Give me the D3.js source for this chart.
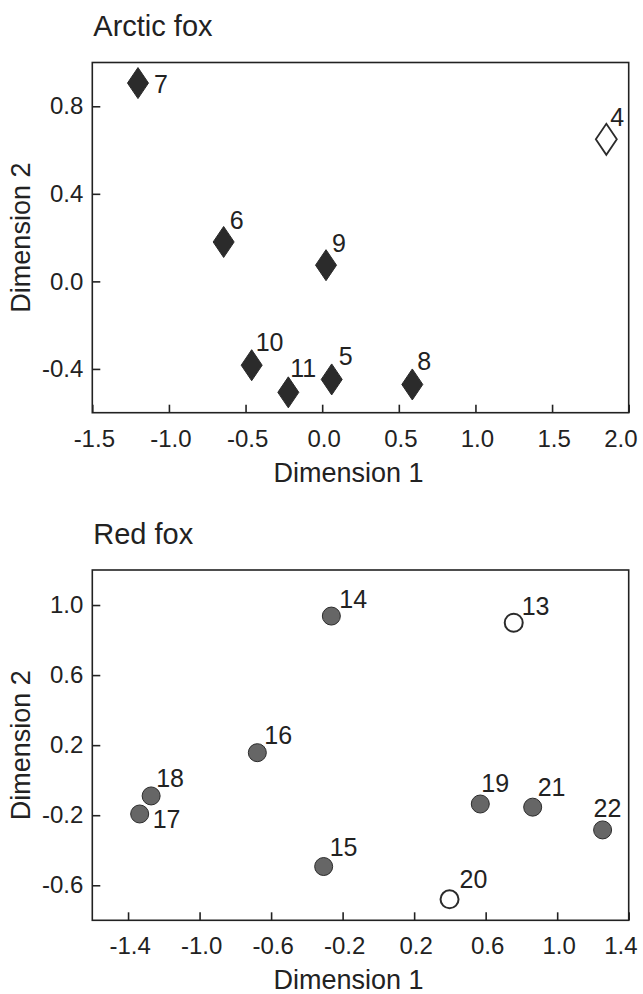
<!DOCTYPE html>
<html>
<head>
<meta charset="utf-8">
<script src="https://cdn.jsdelivr.net/npm/d3@7"></script>
<style>
  html, body { margin: 0; padding: 0; background: #fff; }
  svg { display: block; }
  text { font-family: "Liberation Sans", Arial, Helvetica, sans-serif; fill: #222; }
</style>
</head>
<body>
<svg id="chart" width="643" height="994"></svg>
<script>
// ---------- DATA ----------
const arcticIds   = [4, 5, 6, 7, 8, 9, 10, 11];
const arcticDim1  = [1.854, 0.062, -0.643, -1.202, 0.588, 0.025, -0.460, -0.221];
const arcticDim2  = [0.649, -0.448, 0.180, 0.906, -0.471, 0.074, -0.383, -0.507];
const arcticGroup = ["open", "filled", "filled", "filled", "filled", "filled", "filled", "filled"];

const redIds   = [13, 14, 15, 16, 17, 18, 19, 20, 21, 22];
const redDim1  = [0.757, -0.263, -0.306, -0.677, -1.335, -1.271, 0.570, 0.398, 0.863, 1.254];
const redDim2  = [0.899, 0.937, -0.493, 0.157, -0.193, -0.090, -0.136, -0.680, -0.154, -0.284];
const redGroup = ["open", "filled", "filled", "filled", "filled", "filled", "filled", "open", "filled", "filled"];

const arcticXTicks = [-1.5, -1.0, -0.5, 0.0, 0.5, 1.0, 1.5, 2.0];
const arcticYTicks = [-0.4, 0.0, 0.4, 0.8];
const redXTicks = [-1.4, -1.0, -0.6, -0.2, 0.2, 0.6, 1.0, 1.4];
const redYTicks = [-0.6, -0.2, 0.2, 0.6, 1.0];

const panelTitles = ["Arctic fox", "Red fox"];
const xTitle = "Dimension 1";
const yTitle = "Dimension 2";

// ---------- LAYOUT (label placement offsets, px) ----------
const arcticLabelOffset = {4:[4,-13], 5:[7,-14], 6:[6,-13], 7:[16,10], 8:[5,-14], 9:[6,-13], 10:[4,-14], 11:[2,-15]};
const redLabelOffset = {13:[8,-8], 14:[8,-8], 15:[6,-11], 16:[7,-9], 17:[13,14], 18:[5,-9], 19:[1,-12], 20:[10,-11], 21:[5,-11], 22:[-9,-13]};

const svg = d3.select("#chart");
const fmt = d3.format(".1f");
const fmtTick = v => fmt(v).replace("−", "-");

function panel(cfg) {
  const g = svg.append("g");
  const x = d3.scaleLinear().domain(cfg.xDomain).range([cfg.left, cfg.right]);
  const y = d3.scaleLinear().domain(cfg.yDomain).range([cfg.bottom, cfg.top]);

  // frame
  g.append("rect")
    .attr("x", cfg.left).attr("y", cfg.top)
    .attr("width", cfg.right - cfg.left).attr("height", cfg.bottom - cfg.top)
    .attr("fill", "none").attr("stroke", "#222").attr("stroke-width", 1.6);

  // x axis
  const xa = g.append("g").attr("transform", `translate(0,${cfg.bottom})`)
    .call(d3.axisBottom(x).tickValues(cfg.xTicks).tickFormat(fmtTick)
      .tickSizeInner(-8).tickSizeOuter(0).tickPadding(17));
  xa.select(".domain").remove();
  xa.selectAll(".tick line").attr("stroke", "#222").attr("stroke-width", 1.6);
  xa.selectAll(".tick text").attr("font-size", 24).attr("fill", "#222")
    .style("font-family", '"Liberation Sans", Arial, sans-serif')
    .attr("x", 1.5);
  // last label kept inside the picture, right edge near the canvas edge
  const lastX = xa.selectAll(".tick text").filter((d, i, n) => i === n.length - 1);
  lastX.attr("text-anchor", "end").attr("x", 637 - cfg.right);

  // y axis
  const ya = g.append("g").attr("transform", `translate(${cfg.left},0)`)
    .call(d3.axisLeft(y).tickValues(cfg.yTicks).tickFormat(fmtTick)
      .tickSizeInner(-8).tickSizeOuter(0).tickPadding(9));
  ya.select(".domain").remove();
  ya.selectAll(".tick line").attr("stroke", "#222").attr("stroke-width", 1.6);
  ya.selectAll(".tick text").attr("font-size", 24).attr("fill", "#222")
    .style("font-family", '"Liberation Sans", Arial, sans-serif');

  // titles
  g.append("text").attr("x", cfg.left + 1).attr("y", cfg.top - 26.5)
    .attr("font-size", 29).text(cfg.title);
  g.append("text").attr("x", (cfg.left + cfg.right) / 2 - 12).attr("y", cfg.bottom + 69)
    .attr("text-anchor", "middle").attr("font-size", 27).text(xTitle);
  g.append("text")
    .attr("transform", `translate(30,${(cfg.top + cfg.bottom) / 2}) rotate(-90)`)
    .attr("text-anchor", "middle").attr("font-size", 27).text(yTitle);

  const pts = cfg.ids.map((id, i) => ({id, vx: cfg.d1[i], vy: cfg.d2[i], grp: cfg.grp[i]}));

  const marks = g.append("g").selectAll("g.pt").data(pts).join("g")
    .attr("class", "pt")
    .attr("transform", d => `translate(${x(d.vx)},${y(d.vy)})`);

  if (cfg.shape === "diamond") {
    marks.append("path")
      .attr("d", "M0,-15.5 L10.5,0 L0,15.5 L-10.5,0 Z")
      .attr("fill", d => d.grp === "open" ? "#fff" : "#2b2b2b")
      .attr("stroke", "#2b2b2b")
      .attr("stroke-width", d => d.grp === "open" ? 1.8 : 1);
  } else {
    marks.append("circle").attr("r", 9)
      .attr("fill", d => d.grp === "open" ? "#fff" : "#666")
      .attr("stroke", "#2b2b2b")
      .attr("stroke-width", d => d.grp === "open" ? 2 : 1);
  }

  g.append("g").selectAll("text").data(pts).join("text")
    .attr("x", d => x(d.vx) + cfg.offsets[d.id][0])
    .attr("y", d => y(d.vy) + cfg.offsets[d.id][1])
    .attr("font-size", 25)
    .text(d => d.id);
}

panel({
  title: panelTitles[0],
  left: 92.3, right: 628.7, top: 62.5, bottom: 412.7,
  xDomain: [-1.5, 2.0], yDomain: [-0.6, 1.0],
  xTicks: arcticXTicks, yTicks: arcticYTicks,
  ids: arcticIds, d1: arcticDim1, d2: arcticDim2, grp: arcticGroup,
  shape: "diamond", offsets: arcticLabelOffset
});

panel({
  title: panelTitles[1],
  left: 92.3, right: 628.7, top: 570, bottom: 920.3,
  xDomain: [-1.6, 1.4], yDomain: [-0.8, 1.2],
  xTicks: redXTicks, yTicks: redYTicks,
  ids: redIds, d1: redDim1, d2: redDim2, grp: redGroup,
  shape: "circle", offsets: redLabelOffset
});
</script>
</body>
</html>
